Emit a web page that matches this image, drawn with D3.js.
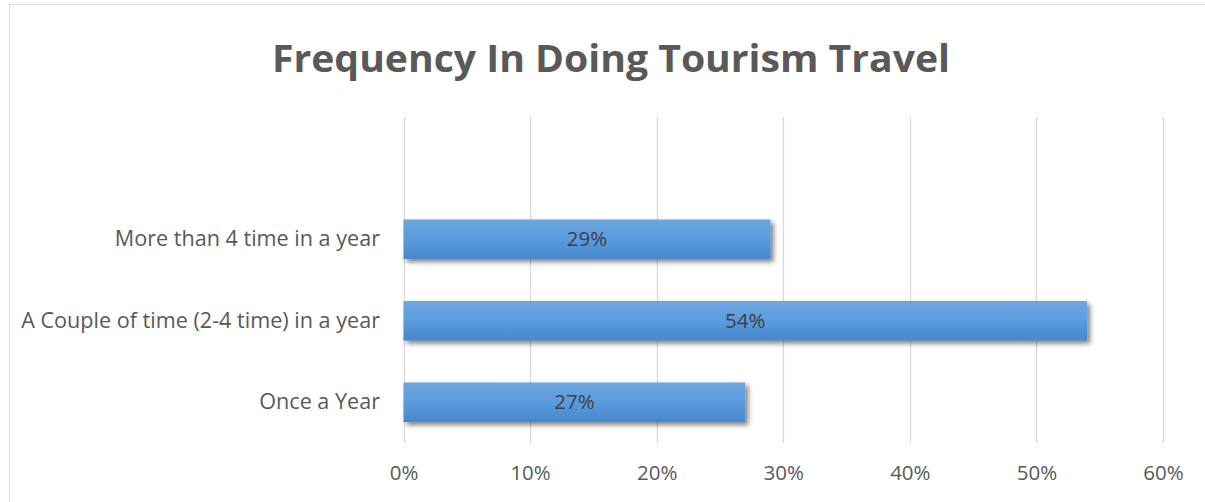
<!DOCTYPE html>
<html>
<head>
<meta charset="utf-8">
<script src="https://cdn.jsdelivr.net/npm/d3@7"></script>
<style>
  html, body { margin: 0; padding: 0; background: #fff; }
  svg { display: block; }
</style>
</head>
<body>
<svg id="chart" width="1205" height="502"></svg>
<script>
// Survey responses: share of respondents by travel frequency
const titleText = "Frequency In Doing Tourism Travel";
const categories = ["Once a Year", "A Couple of time (2-4 time) in a year", "More than 4 time in a year"];
const shares = [0.27, 0.54, 0.29];
const tickValues = [0, 0.1, 0.2, 0.3, 0.4, 0.5, 0.6];

const svg = d3.select("#chart");
const W = 1205, H = 502;
const font = "'Open Sans', 'Noto Sans', sans-serif";

// chart frame
svg.append("rect")
  .attr("x", 9.5).attr("y", 4.5)
  .attr("width", W + 10).attr("height", H + 10)
  .attr("fill", "#fff").attr("stroke", "#d9d9d9").attr("stroke-width", 1);

const plot = { left: 403.5, right: 1163, top: 117, bottom: 443 };

const x = d3.scaleLinear().domain([0, 0.6]).range([plot.left, plot.right]);
// four slots on the axis; the top slot stays empty
const step = (plot.bottom - plot.top) / 4;
const y = d3.scaleBand()
  .domain(categories)
  .range([plot.bottom, plot.bottom - 3 * step])
  .paddingInner(0.515)
  .paddingOuter(0.2575);

// defs: bar gradient and soft shadow
const defs = svg.append("defs");
const grad = defs.append("linearGradient").attr("id", "barGrad")
  .attr("x1", 0).attr("y1", 0).attr("x2", 0).attr("y2", 1);
grad.append("stop").attr("offset", "0%").attr("stop-color", "#6fa7de");
grad.append("stop").attr("offset", "50%").attr("stop-color", "#5a9be0");
grad.append("stop").attr("offset", "100%").attr("stop-color", "#4787cc");

const shadow = defs.append("filter").attr("id", "barShadow")
  .attr("x", "-5%").attr("y", "-30%").attr("width", "115%").attr("height", "180%");
shadow.append("feGaussianBlur").attr("in", "SourceAlpha").attr("stdDeviation", 2.5).attr("result", "b");
shadow.append("feOffset").attr("in", "b").attr("dx", 2.5).attr("dy", 3).attr("result", "o");
shadow.append("feComponentTransfer").attr("in", "o").attr("result", "s")
  .append("feFuncA").attr("type", "linear").attr("slope", 0.5);
const merge = shadow.append("feMerge");
merge.append("feMergeNode").attr("in", "s");
merge.append("feMergeNode").attr("in", "SourceGraphic");

// vertical gridlines
svg.append("g")
  .selectAll("line")
  .data(tickValues)
  .join("line")
  .attr("x1", d => Math.round(x(d)) + 0.5)
  .attr("x2", d => Math.round(x(d)) + 0.5)
  .attr("y1", plot.top).attr("y2", plot.bottom)
  .attr("stroke", "#d9d9d9").attr("stroke-width", 1.3);

// x axis tick labels
const xAxis = d3.axisBottom(x)
  .tickValues(tickValues)
  .tickFormat(d3.format(".0%"))
  .tickSize(0)
  .tickPadding(0);
const gx = svg.append("g")
  .attr("transform", `translate(0,${plot.bottom})`)
  .call(xAxis);
gx.select(".domain").remove();
gx.selectAll("text")
  .attr("y", 37)
  .attr("dy", null)
  .attr("fill", "#595959")
  .style("font-family", font)
  .style("font-size", "20.5px");

// y axis category labels
const yAxis = d3.axisLeft(y).tickSize(0).tickPadding(0);
const gy = svg.append("g")
  .attr("transform", "translate(380,0)")
  .call(yAxis);
gy.select(".domain").remove();
gy.selectAll("text")
  .attr("fill", "#595959")
  .style("font-family", font)
  .style("font-size", "21.6px");

// bars
const data = categories.map((c, i) => ({ c, v: shares[i] }));
svg.append("g")
  .selectAll("rect")
  .data(data)
  .join("rect")
  .attr("x", x(0))
  .attr("y", d => y(d.c))
  .attr("width", d => x(d.v) - x(0))
  .attr("height", y.bandwidth())
  .attr("fill", "url(#barGrad)")
  .attr("filter", "url(#barShadow)");

// value labels centred on each bar
svg.append("g")
  .selectAll("text")
  .data(data)
  .join("text")
  .attr("x", d => (x(0) + x(d.v)) / 2)
  .attr("y", d => y(d.c) + y.bandwidth() / 2)
  .attr("dy", "0.35em")
  .attr("text-anchor", "middle")
  .attr("fill", "#404040")
  .style("font-family", font)
  .style("font-size", "20.5px")
  .text(d => d3.format(".0%")(d.v));

// title
svg.append("text")
  .attr("x", 611)
  .attr("y", 72)
  .attr("text-anchor", "middle")
  .attr("fill", "#595959")
  .style("font-family", font)
  .style("font-weight", "bold")
  .style("font-size", "38px")
  .attr("textLength", 678)
  .attr("lengthAdjust", "spacingAndGlyphs")
  .text(titleText);
</script>
</body>
</html>
